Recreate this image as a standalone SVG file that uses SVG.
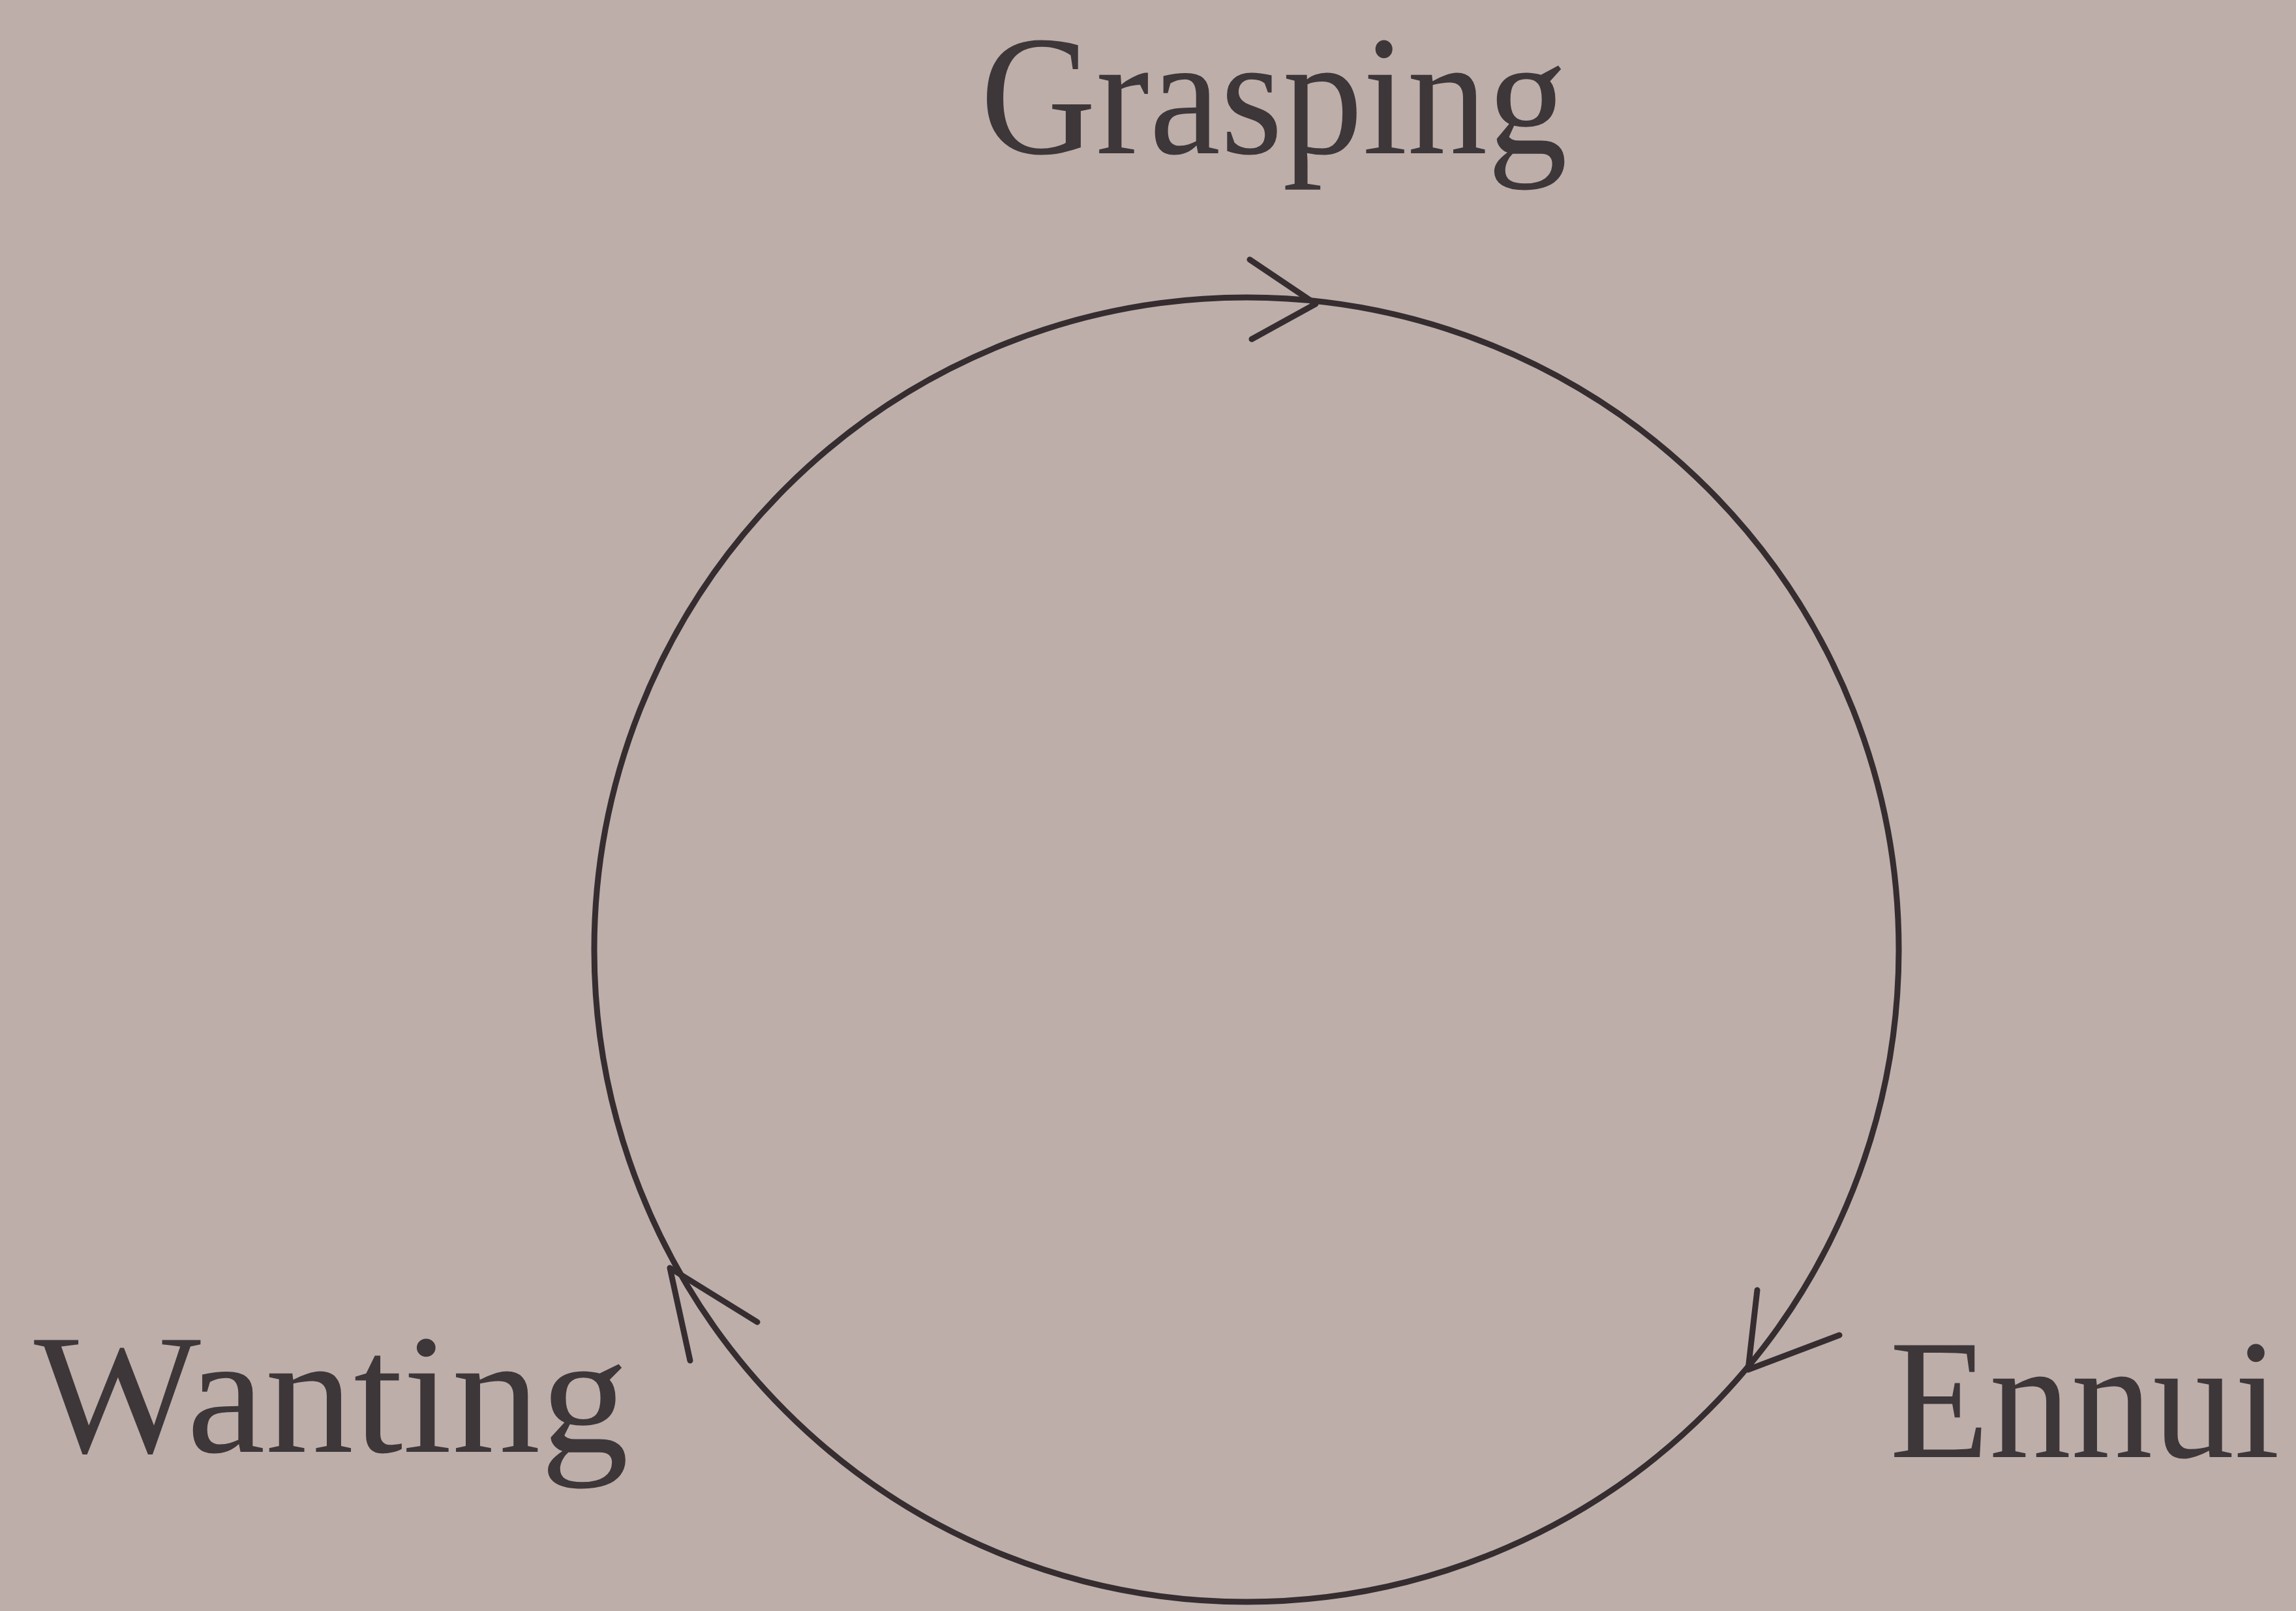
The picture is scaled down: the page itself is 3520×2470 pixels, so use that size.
<svg xmlns="http://www.w3.org/2000/svg" width="3520" height="2470" viewBox="0 0 3520 2470">
<style>
.lbl{font-family:"Liberation Serif","DejaVu Serif",serif;font-size:262px;fill:#3e3739;}
.ln{fill:none;stroke:#352d2f;stroke-width:9;stroke-linecap:round;stroke-linejoin:round;}
</style>
<rect x="0" y="0" width="3520" height="2470" fill="#bdaeaa"/>
<g id="connectors">
<circle class="ln" cx="1911" cy="1456" r="1000"/>
<path class="ln" d="M1916,398 L2017,466 L1919,520"/>
<path class="ln" d="M2694,1978 L2680,2100 L2820,2047"/>
<path class="ln" d="M1058,2086 L1027,1944 L1161,2027"/>
</g>
<g id="grasping"><text class="lbl" x="1503" y="235" textLength="900" lengthAdjust="spacingAndGlyphs">Grasping</text></g>
<g id="wanting"><text class="lbl" x="52" y="2226" textLength="912" lengthAdjust="spacingAndGlyphs">Wanting</text></g>
<g id="ennui"><text class="lbl" x="2897" y="2234" textLength="598" lengthAdjust="spacingAndGlyphs">Ennui</text></g>
</svg>
